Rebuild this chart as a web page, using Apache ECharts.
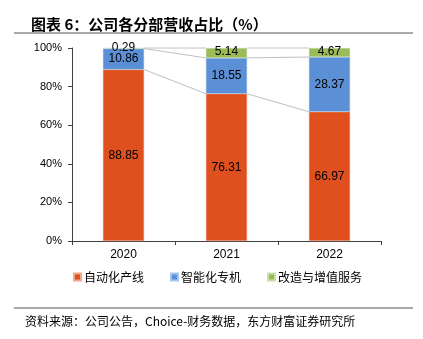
<!DOCTYPE html>
<html>
<head>
<meta charset="utf-8">
<style>
  html, body { margin: 0; padding: 0; background: #fff; }
  #chart { width: 423px; height: 339px; }
</style>
<script src="https://cdn.jsdelivr.net/npm/echarts@6/dist/echarts.min.js"></script>
</head>
<body>
<div id="chart"></div>
<script>
// Revenue share by segment (%)
const years = ['2020', '2021', '2022'];
const autoLine = [88.85, 76.31, 66.97];      // 自动化产线
const smartMachine = [10.86, 18.55, 28.37];  // 智能化专机
const upgradeService = [0.29, 5.14, 4.67];   // 改造与增值服务
const yTicks = [0, 20, 40, 60, 80, 100];

const seriesNames = ['自动化产线', '智能化专机', '改造与增值服务'];
const colors = ['#E0501E', '#5B8FD6', '#9BBB59'];
const barRatio = 0.4;

// Cumulative stack boundaries used for the connector lines between bars
const stackTop1 = autoLine.slice();
const stackTop2 = autoLine.map((v, i) => v + smartMachine[i]);
const stackTop3 = yTicks[yTicks.length - 1];
const boundaries = [stackTop1, stackTop2, years.map(() => stackTop3)];

const connectorData = [];
boundaries.forEach(b => {
  for (let i = 0; i < years.length - 1; i++) {
    connectorData.push([i, b[i], b[i + 1]]);
  }
});

const labelStyle = {
  show: true,
  position: 'inside',
  color: '#000',
  fontSize: 12,
  fontFamily: 'Liberation Sans, Arial, sans-serif',
  formatter: p => p.value.toFixed(2)
};

const chart = echarts.init(document.getElementById('chart'), null, { renderer: 'canvas' });

chart.setOption({
  animation: false,
  backgroundColor: '#fff',
  title: {
    text: '图表 6：公司各分部营收占比（%）',
    left: 26,
    top: 12,
    textStyle: {
      fontFamily: 'Noto Sans CJK SC',
      fontSize: 15,
      fontWeight: 'bold',
      color: '#000'
    }
  },
  graphic: [
    { type: 'line', shape: { x1: 14, y1: 33, x2: 413, y2: 33 }, style: { stroke: '#8c8c8c', lineWidth: 1.5 } },
    { type: 'line', shape: { x1: 14, y1: 308, x2: 413, y2: 308 }, style: { stroke: '#8c8c8c', lineWidth: 1.5 } },
    {
      type: 'text',
      left: 25,
      top: 315,
      style: {
        text: '资料来源：公司公告，Choice-财务数据，东方财富证券研究所',
        font: '12px "Noto Sans CJK SC"',
        fill: '#000'
      }
    }
  ],
  legend: {
    left: 68,
    top: 266,
    itemWidth: 7,
    itemHeight: 7,
    itemGap: 26,
    icon: 'rect',
    data: seriesNames,
    textStyle: {
      fontFamily: 'Noto Sans CJK SC',
      fontSize: 12,
      color: '#000',
      padding: [0, 0, 0, -2]
    }
  },
  grid: { left: 72, right: 42, top: 48, bottom: 98 },
  xAxis: {
    type: 'category',
    data: years,
    axisLine: { lineStyle: { color: '#404040', width: 1 } },
    axisTick: { show: true, alignWithLabel: false, length: 4, lineStyle: { color: '#404040' } },
    axisLabel: { color: '#000', fontSize: 12, margin: 8, fontFamily: 'Liberation Sans, Arial, sans-serif' }
  },
  yAxis: {
    type: 'value',
    min: 0,
    max: 100,
    interval: 20,
    axisLine: { show: true, lineStyle: { color: '#404040', width: 1 } },
    axisTick: { show: true, length: 4, lineStyle: { color: '#404040' } },
    splitLine: { show: false },
    axisLabel: {
      color: '#000',
      fontSize: 11,
      margin: 10,
      fontFamily: 'Liberation Sans, Arial, sans-serif',
      formatter: v => yTicks.includes(v) ? v + '%' : ''
    }
  },
  series: [
    {
      name: seriesNames[0], type: 'bar', stack: 'total', data: autoLine,
      barWidth: (barRatio * 100) + '%',
      itemStyle: { color: colors[0], borderColor: '#f3a88a', borderWidth: 0.5 },
      label: labelStyle
    },
    {
      name: seriesNames[1], type: 'bar', stack: 'total', data: smartMachine,
      itemStyle: { color: colors[1], borderColor: '#a9c4ea', borderWidth: 0.5 },
      label: labelStyle
    },
    {
      name: seriesNames[2], type: 'bar', stack: 'total', data: upgradeService,
      itemStyle: { color: colors[2], borderColor: '#cddcb0', borderWidth: 0.5 },
      label: Object.assign({}, labelStyle, { position: 'inside', offset: [0, -1] })
    },
    {
      // connector lines between adjacent bars at each stack boundary
      type: 'custom',
      silent: true,
      z: 1,
      data: connectorData,
      encode: { x: 0, y: 1 },
      renderItem: (params, api) => {
        const i = api.value(0);
        const p1 = api.coord([i, api.value(1)]);
        const p2 = api.coord([i + 1, api.value(2)]);
        const half = api.size([1, 0])[0] * barRatio / 2;
        return {
          type: 'line',
          shape: { x1: p1[0] + half, y1: p1[1], x2: p2[0] - half, y2: p2[1] },
          style: { stroke: '#bfbfbf', lineWidth: 1 }
        };
      }
    }
  ]
});
</script>
</body>
</html>
